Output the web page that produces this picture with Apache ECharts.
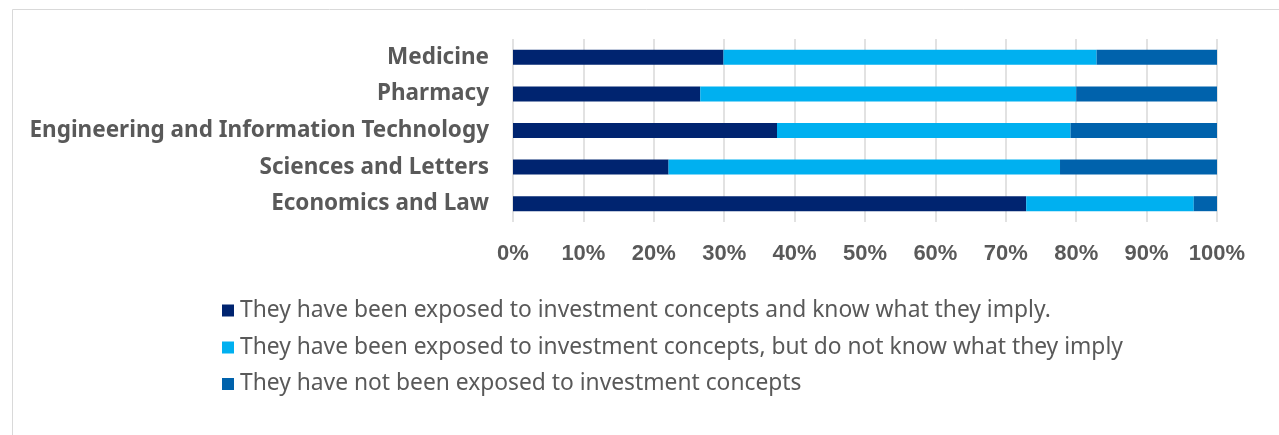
<!DOCTYPE html>
<html>
<head>
<meta charset="utf-8">
<style>
  html, body { margin: 0; padding: 0; background: #ffffff; }
  #chart { width: 1279px; height: 435px; }
</style>
<script src="https://cdn.jsdelivr.net/npm/echarts@6/dist/echarts.min.js"></script>
</head>
<body>
<div id="chart"></div>
<script>
// Faculties, listed top to bottom
const categories = [
  'Medicine',
  'Pharmacy',
  'Engineering and Information Technology',
  'Sciences and Letters',
  'Economics and Law'
];

// Share of students (%) in each group
const knowImply = [29.9, 26.6, 37.5, 22.1, 72.9];
const dontKnowImply = [53.0, 53.4, 41.7, 55.6, 23.8];
const notExposed = [17.1, 20.0, 20.8, 22.3, 3.3];

const seriesNames = [
  'They have been exposed to investment concepts and know what they imply.',
  'They have been exposed to investment concepts, but do not know what they imply',
  'They have not been exposed to investment concepts'
];

const xTicks = [0, 10, 20, 30, 40, 50, 60, 70, 80, 90, 100];

const colors = ['#002470', '#00B0F0', '#0062AC'];
const textGray = '#595959';

const chart = echarts.init(document.getElementById('chart'), null, { renderer: 'canvas' });

// One legend block per series so each row sits on its own line
function legendFor(i, top) {
  return {
    data: [seriesNames[i]],
    left: 222,
    top: top,
    orient: 'horizontal',
    icon: 'rect',
    itemWidth: 12,
    itemHeight: 12,
    itemGap: 0,
    padding: 0,
    selectedMode: false,
    textStyle: {
      color: textGray,
      fontFamily: 'Noto Sans',
      fontSize: 22.8,
      padding: [0, 0, 0, 1]
    }
  };
}

const dataSets = [knowImply, dontKnowImply, notExposed];

chart.setOption({
  animation: false,
  backgroundColor: '#ffffff',
  color: colors,
  graphic: [{
    type: 'rect',
    shape: { x: 12.5, y: 9.5, width: 1400, height: 600 },
    style: { fill: 'none', stroke: '#d9d9d9', lineWidth: 1 },
    silent: true,
    z: -1
  }],
  legend: [legendFor(0, 299), legendFor(1, 336), legendFor(2, 372.5)],
  grid: { left: 513, right: 62, top: 39, height: 183, containLabel: false },
  xAxis: {
    type: 'value',
    min: xTicks[0],
    max: xTicks[xTicks.length - 1],
    interval: xTicks[1] - xTicks[0],
    axisLine: { show: false },
    axisTick: { show: false },
    splitLine: { show: true, lineStyle: { color: '#d9d9d9', width: 1.5 } },
    axisLabel: {
      formatter: '{value}%',
      color: textGray,
      fontFamily: 'Liberation Sans',
      fontWeight: 'bold',
      fontSize: 22,
      margin: 21
    }
  },
  yAxis: {
    type: 'category',
    data: categories,
    inverse: true,
    axisLine: { show: false },
    axisTick: { show: false },
    splitLine: { show: false },
    axisLabel: {
      color: textGray,
      fontFamily: 'Noto Sans',
      fontWeight: 'bold',
      fontSize: 22.5,
      margin: 24
    }
  },
  series: dataSets.map((values, i) => ({
    name: seriesNames[i],
    type: 'bar',
    stack: 'total',
    barWidth: 15,
    data: values,
    itemStyle: { color: colors[i] },
    emphasis: { disabled: true }
  }))
});
</script>
</body>
</html>
